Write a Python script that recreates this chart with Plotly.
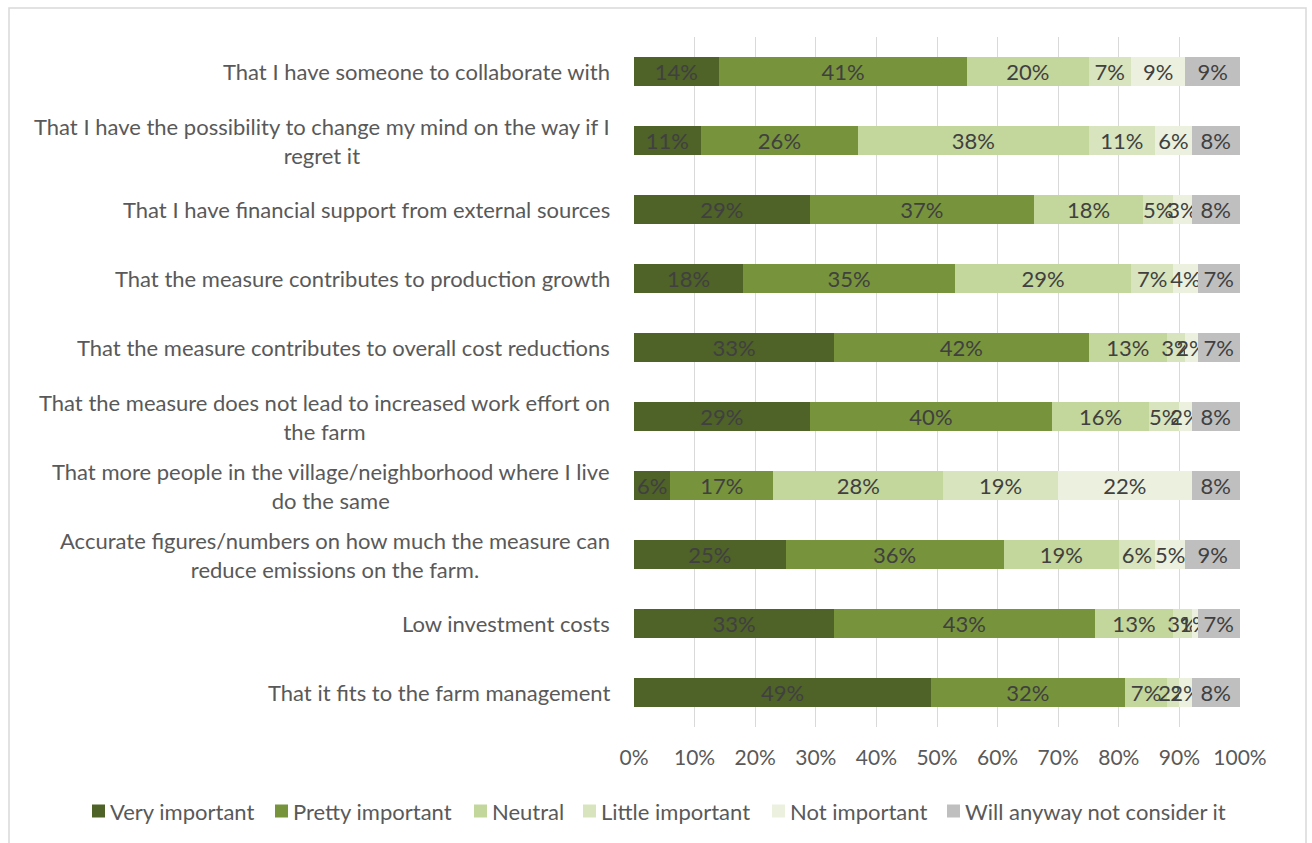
import plotly.graph_objects as go

categories = [
    "That I have someone to collaborate with",
    "That I have the possibility to change my mind on the way if I<br>regret it",
    "That I have financial support from external sources",
    "That the measure contributes to production growth",
    "That the measure contributes to overall cost reductions",
    "That the measure does not lead to increased work effort on<br>the farm",
    "That more people in the village/neighborhood where I live<br>do the same",
    "Accurate figures/numbers on how much the measure can<br>reduce emissions on the farm.",
    "Low investment costs",
    "That it fits to the farm management",
]

very_important = [14, 11, 29, 18, 33, 29, 6, 25, 33, 49]
pretty_important = [41, 26, 37, 35, 42, 40, 17, 36, 43, 32]
neutral = [20, 38, 18, 29, 13, 16, 28, 19, 13, 7]
little_important = [7, 11, 5, 7, 3, 5, 19, 6, 3, 2]
not_important = [9, 6, 3, 4, 2, 2, 22, 5, 1, 2]
will_not_consider = [9, 8, 8, 7, 7, 8, 8, 9, 7, 8]

series_names = ["Very important", "Pretty important", "Neutral",
                "Little important", "Not important", "Will anyway not consider it"]
series_values = [very_important, pretty_important, neutral,
                 little_important, not_important, will_not_consider]
series_colors = ["#4F6228", "#77933C", "#C3D69B", "#D7E4BD", "#EBF1DE", "#BFBFBF"]

ticks = [0, 10, 20, 30, 40, 50, 60, 70, 80, 90, 100]
tick_labels = [f"{t}%" for t in ticks]

FONT = "Lato"
W, H = 1312, 843
M_L, M_R, M_T, M_B = 634, 72, 37, 116
PW, PH = W - M_L - M_R, H - M_T - M_B


def px_x(px):
    """Pixel column -> paper x fraction."""
    return (px - M_L) / PW


def px_y(py):
    """Pixel row (from top) -> paper y fraction."""
    return (H - M_B - py) / PH


positions = list(range(len(categories)))

fig = go.Figure()
for name, vals, color in zip(series_names, series_values, series_colors):
    fig.add_trace(go.Bar(
        name=name,
        y=positions,
        x=vals,
        orientation="h",
        marker=dict(color=color, line=dict(width=0)),
        text=[f"{v}%" for v in vals],
        textposition="inside",
        insidetextanchor="middle",
        textangle=0,
        textfont=dict(family=FONT, size=22, color="#404040"),
        width=0.41,
        showlegend=False,
    ))

# Category labels, each line centred, block right-aligned to the axis
for i, cat in enumerate(categories):
    fig.add_annotation(
        x=0, y=i, xref="paper", yref="y",
        text=cat, showarrow=False,
        xanchor="right", yanchor="middle", align="center",
        xshift=-22,
        font=dict(family=FONT, size=22, color="#595959"),
    )

# Legend row below the axis: colour swatch followed by its label
legend_swatch_px = [92, 275, 474, 583, 772, 947]
legend_row_py = 811
for name, color, sx in zip(series_names, series_colors, legend_swatch_px):
    fig.add_shape(
        type="rect", xref="paper", yref="paper",
        x0=px_x(sx), x1=px_x(sx + 13),
        y0=px_y(legend_row_py + 6.5), y1=px_y(legend_row_py - 6.5),
        fillcolor=color, line=dict(width=0),
    )
    fig.add_annotation(
        x=px_x(sx + 16), y=px_y(legend_row_py), xref="paper", yref="paper",
        text=name, showarrow=False,
        xanchor="left", yanchor="middle",
        font=dict(family=FONT, size=22, color="#595959"),
    )

# Outer chart frame
fig.add_shape(
    type="rect", xref="paper", yref="paper",
    x0=px_x(9), x1=px_x(1306), y0=px_y(860), y1=px_y(8),
    line=dict(color="#D9D9D9", width=1.5), layer="below",
)

fig.update_layout(
    width=W, height=H,
    barmode="stack",
    plot_bgcolor="white",
    paper_bgcolor="white",
    margin=dict(l=M_L, r=M_R, t=M_T, b=M_B, autoexpand=False),
    uniformtext=dict(minsize=22, mode="show"),
    showlegend=False,
    xaxis=dict(
        range=[0, 100],
        tickvals=ticks,
        ticktext=tick_labels,
        showgrid=True,
        gridcolor="#D9D9D9",
        gridwidth=1,
        zeroline=False,
        showline=False,
        tickfont=dict(family=FONT, size=21, color="#595959"),
        ticks="",
        ticklabelstandoff=16,
    ),
    yaxis=dict(
        range=[9.5, -0.5],
        showticklabels=False,
        showgrid=False,
        zeroline=False,
        showline=False,
        ticks="",
    ),
)

fig.write_html("out.html")
